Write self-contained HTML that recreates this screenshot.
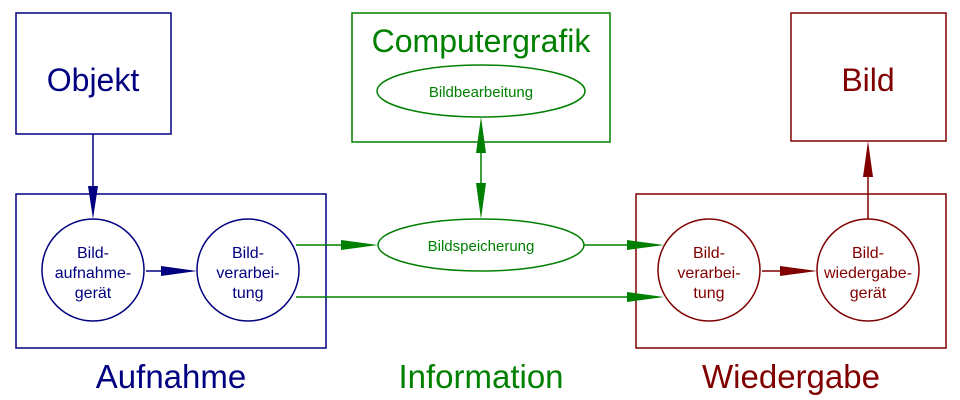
<!DOCTYPE html>
<html><head><meta charset="utf-8"><style>
html,body{margin:0;padding:0;background:#fff;}
svg{display:block;font-family:"Liberation Sans",Arial,sans-serif;}
</style></head><body>
<svg width="960" height="400" viewBox="0 0 960 400" xmlns="http://www.w3.org/2000/svg">
<g fill="none" stroke-width="1.5">
<g stroke="#000080">
<rect x="16" y="13" width="155" height="121"/>
<rect x="16" y="194" width="310" height="154"/>
<circle cx="93" cy="270" r="51"/>
<circle cx="248" cy="270" r="51"/>
<line x1="93" y1="134" x2="93" y2="190"/>
<line x1="146" y1="271" x2="165" y2="271"/>
</g>
<g stroke="#008000">
<rect x="352" y="13" width="258" height="129"/>
<ellipse cx="481" cy="91" rx="104" ry="26"/>
<ellipse cx="481" cy="245" rx="103" ry="26"/>
<line x1="481" y1="150" x2="481" y2="186"/>
<line x1="296" y1="245" x2="345" y2="245"/>
<line x1="584" y1="245" x2="630" y2="245"/>
<line x1="296" y1="297" x2="630" y2="297"/>
</g>
<g stroke="#800000">
<rect x="791" y="13" width="155" height="128"/>
<rect x="636" y="194" width="310" height="154"/>
<circle cx="709" cy="270" r="51"/>
<circle cx="868" cy="270" r="51"/>
<line x1="868" y1="219" x2="868" y2="175"/>
<line x1="762" y1="271" x2="780" y2="271"/>
</g>
</g>
<g fill="#000080">
<polygon points="88,186 98,186 93,219"/>
<polygon points="161,266 161,276 197,271"/>
</g>
<g fill="#008000">
<polygon points="341,240 341,250 378,245"/>
<polygon points="627,240 627,250 664,245"/>
<polygon points="627,292 627,302 664,297"/>
<polygon points="476,153 486,153 481,117"/>
<polygon points="476,183 486,183 481,219"/>
</g>
<g fill="#800000">
<polygon points="863,177 873,177 868,141"/>
<polygon points="780,266 780,276 817,271"/>
</g>
<g text-anchor="middle">
<text x="93" y="91" font-size="32" fill="#000080">Objekt</text>
<text x="481" y="52" font-size="32" fill="#008000">Computergrafik</text>
<text x="868" y="91" font-size="32" fill="#800000">Bild</text>
<text x="481" y="97" font-size="15" fill="#008000">Bildbearbeitung</text>
<text x="481" y="251" font-size="15" fill="#008000">Bildspeicherung</text>
<g font-size="16" fill="#000080">
<text x="93" y="258">Bild-</text><text x="93" y="278">aufnahme-</text><text x="93" y="298">gerät</text>
<text x="248" y="258">Bild-</text><text x="248" y="278">verarbei-</text><text x="248" y="298">tung</text>
</g>
<g font-size="16" fill="#800000">
<text x="709" y="258">Bild-</text><text x="709" y="278">verarbei-</text><text x="709" y="298">tung</text>
<text x="868" y="258">Bild-</text><text x="868" y="278">wiedergabe-</text><text x="868" y="298">gerät</text>
</g>
<text x="171" y="388" font-size="33" fill="#000080">Aufnahme</text>
<text x="481" y="388" font-size="33" fill="#008000">Information</text>
<text x="791" y="388" font-size="33" fill="#800000">Wiedergabe</text>
</g>
</svg>
</body></html>
